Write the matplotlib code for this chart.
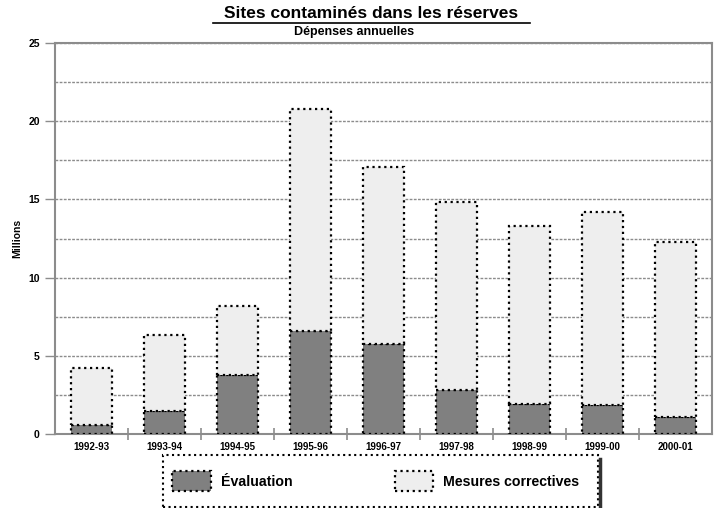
import numpy as np
import matplotlib.pyplot as plt
from matplotlib.lines import Line2D
from matplotlib.patches import Rectangle

plt.rcParams['font.family'] = ['Liberation Sans', 'DejaVu Sans']
plt.rcParams['font.weight'] = 'bold'

years = ['1992-93', '1993-94', '1994-95', '1995-96', '1996-97',
         '1997-98', '1998-99', '1999-00', '2000-01']
evaluation = [0.6, 1.5, 3.8, 6.6, 5.75, 2.8, 1.9, 1.85, 1.1]
totals = [4.25, 6.3, 8.2, 20.75, 17.05, 14.85, 13.3, 14.2, 12.25]
correctives = [t - e for t, e in zip(totals, evaluation)]

dark = '#808080'
light = '#eeeeee'
grey = '#8c8c8c'

W, H = 715, 508
fig = plt.figure(figsize=(W / 100, H / 100), dpi=100)
ax = fig.add_axes([55 / W, 1 - 434 / H, 657 / W, 391 / H])

x = np.arange(len(years))
w = 0.55
ax.bar(x, evaluation, w, color=dark, edgecolor='black', linestyle=':',
       linewidth=1.6, zorder=3, label='Évaluation')
ax.bar(x, correctives, w, bottom=evaluation, color=light, edgecolor='black',
       linestyle=':', linewidth=1.6, zorder=3, label='Mesures correctives')

ax.set_xlim(-0.5, len(years) - 0.5)
ax.set_ylim(0, 25)
ax.set_yticks(np.arange(0, 26, 5))
ax.set_yticks(np.arange(0, 25, 2.5), minor=True)
ax.yaxis.grid(True, which='both', color=grey, linestyle=(0, (2, 1)),
              linewidth=1.0, zorder=0)
ax.set_xticks(x)
ax.set_xticklabels(years, fontsize=7, fontweight='bold')
ax.set_xticks(np.arange(0.5, len(years) - 1, 1), minor=True)
ax.tick_params(axis='x', which='major', length=0, pad=6)
ax.tick_params(axis='x', which='minor', length=8, direction='inout',
               color=grey, width=1.2)
ax.tick_params(axis='y', which='major', length=7, color=grey, width=1,
               labelsize=7.5, pad=4)
ax.tick_params(axis='y', which='minor', length=0)
for lab in ax.get_yticklabels():
    lab.set_fontweight('bold')
for s in ax.spines.values():
    s.set_color(grey)
    s.set_linewidth(1.5)

fig.text(17 / W, 1 - 238 / H, 'Millions', rotation=90, ha='center',
         va='center', fontsize=7.5, fontweight='bold')

fig.text(371 / W, 1 - 13 / H, 'Sites contaminés dans les réserves',
         ha='center', va='center', fontsize=12.5, fontweight='bold')
fig.text(354 / W, 1 - 32 / H, 'Dépenses annuelles', ha='center',
         va='center', fontsize=9, fontweight='bold')
# underline the title
fig.add_artist(Line2D([213 / W, 530 / W], [1 - 23 / H, 1 - 23 / H],
                      color='black', linewidth=1.2))

# legend frame drawn by hand, dotted with a dark shadow on the right
fig.add_artist(Rectangle((163 / W, 1 - 507 / H), 435 / W, 52 / H,
                         transform=fig.transFigure, facecolor='white',
                         edgecolor='black', linestyle=':', linewidth=1.5))
fig.add_artist(Line2D([600 / W, 600 / W], [1 - 459 / H, 1 - 507 / H],
                      color='#333333', linewidth=2.5))
leg = fig.legend(loc='center left', bbox_to_anchor=(172 / W, 1 - 481 / H),
                 ncol=2, fontsize=10.2, frameon=False, handlelength=2.75,
                 handleheight=1.75, borderaxespad=0, borderpad=0,
                 handletextpad=0.7, columnspacing=7.2)
for t in leg.get_texts():
    t.set_fontweight('bold')

fig.savefig('out.png', dpi=100)
